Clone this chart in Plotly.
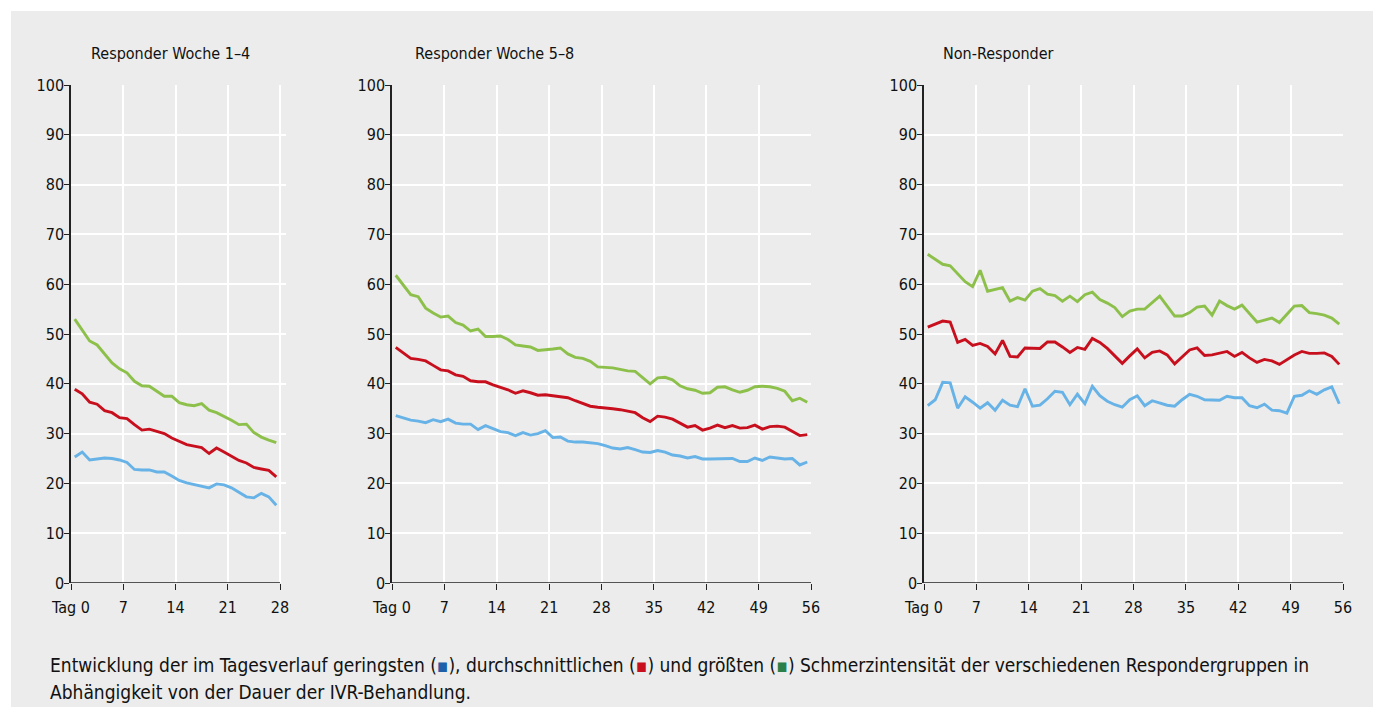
import plotly.graph_objects as go

# the page body adds an 8px margin, so the figure is 8px smaller and shifted
OFF = 8
W, H = 1384 - OFF, 718 - OFF

# ---------------- data ----------------
days_28 = [d + 0.5 for d in range(28)]
days_56 = [d + 0.5 for d in range(56)]

p1_min = [25.3, 26.3, 24.7, 24.9, 25.1, 25.0, 24.7, 24.2, 22.8, 22.7, 22.7, 22.3, 22.3, 21.5,
          20.6, 20.1, 19.8, 19.4, 19.1, 19.9, 19.7, 19.1, 18.2, 17.3, 17.1, 18.0, 17.3, 15.6]
p1_avg = [38.9, 38.0, 36.3, 35.9, 34.6, 34.2, 33.2, 33.0, 31.8, 30.7, 30.9, 30.5, 30.0, 29.1,
          28.4, 27.8, 27.5, 27.2, 26.0, 27.1, 26.3, 25.5, 24.6, 24.1, 23.2, 22.9, 22.6, 21.3]
p1_max = [53.0, 50.8, 48.6, 47.8, 46.0, 44.2, 43.0, 42.2, 40.5, 39.6, 39.5, 38.5, 37.5, 37.5,
          36.2, 35.8, 35.6, 36.0, 34.7, 34.2, 33.5, 32.7, 31.8, 31.9, 30.2, 29.3, 28.7, 28.2]

p2_min = [33.6, 33.1, 32.7, 32.5, 32.2, 32.8, 32.4, 32.9, 32.1, 31.9, 31.9, 30.8, 31.6, 31.0,
          30.4, 30.2, 29.6, 30.2, 29.7, 30.0, 30.6, 29.2, 29.3, 28.5, 28.3, 28.3, 28.2, 28.0,
          27.6, 27.1, 26.9, 27.2, 26.8, 26.3, 26.2, 26.6, 26.3, 25.7, 25.5, 25.1, 25.4, 24.9,
          24.9, 24.9, 25.0, 25.0, 24.4, 24.4, 25.1, 24.6, 25.3, 25.1, 24.9, 25.0, 23.7, 24.3]
p2_avg = [47.3, 46.2, 45.1, 44.9, 44.6, 43.7, 42.8, 42.6, 41.8, 41.5, 40.6, 40.4, 40.4, 39.8,
          39.3, 38.8, 38.1, 38.6, 38.2, 37.7, 37.8, 37.6, 37.4, 37.2, 36.6, 36.0, 35.5, 35.3,
          35.2, 35.0, 34.8, 34.5, 34.2, 33.2, 32.4, 33.5, 33.3, 32.9, 32.1, 31.3, 31.6, 30.7,
          31.1, 31.7, 31.2, 31.6, 31.1, 31.2, 31.7, 30.9, 31.4, 31.5, 31.3, 30.5, 29.6, 29.8]
p2_max = [61.8, 59.8, 57.9, 57.5, 55.2, 54.2, 53.4, 53.6, 52.3, 51.8, 50.6, 51.0, 49.5, 49.5,
          49.6, 48.9, 47.8, 47.6, 47.4, 46.7, 46.8, 47.0, 47.2, 46.0, 45.3, 45.1, 44.5, 43.4,
          43.3, 43.2, 42.9, 42.6, 42.5, 41.2, 40.0, 41.2, 41.3, 40.8, 39.6, 39.0, 38.7, 38.1,
          38.2, 39.3, 39.4, 38.8, 38.3, 38.7, 39.4, 39.5, 39.4, 39.1, 38.5, 36.6, 37.1, 36.3]

p3_min = [35.6, 36.8, 40.3, 40.2, 35.1, 37.4, 36.3, 35.1, 36.2, 34.7, 36.7, 35.7, 35.4, 39.0,
          35.5, 35.7, 37.0, 38.5, 38.3, 35.8, 37.9, 36.0, 39.5, 37.6, 36.5, 35.8, 35.3, 36.8,
          37.6, 35.6, 36.6, 36.2, 35.7, 35.5, 36.8, 37.9, 37.5, 36.8, 36.8, 36.7, 37.5, 37.2,
          37.2, 35.6, 35.2, 35.9, 34.7, 34.6, 34.1, 37.5, 37.7, 38.6, 37.9, 38.8, 39.4, 36.0]
p3_avg = [51.4, 52.0, 52.6, 52.4, 48.3, 48.9, 47.7, 48.1, 47.5, 46.0, 48.7, 45.5, 45.4, 47.2,
          47.1, 47.1, 48.4, 48.4, 47.4, 46.3, 47.3, 46.9, 49.1, 48.3, 47.1, 45.7, 44.1, 45.6,
          47.0, 45.2, 46.3, 46.6, 45.8, 44.0, 45.3, 46.8, 47.2, 45.7, 45.8, 46.2, 46.5, 45.5,
          46.3, 45.2, 44.3, 44.9, 44.6, 43.9, 44.8, 45.8, 46.5, 46.1, 46.1, 46.2, 45.5, 43.9]
p3_max = [66.0, 65.0, 64.0, 63.7, 62.0, 60.5, 59.5, 62.8, 58.6, 58.9, 59.3, 56.6, 57.3, 56.8,
          58.6, 59.1, 58.0, 57.7, 56.6, 57.6, 56.5, 57.9, 58.4, 56.9, 56.2, 55.3, 53.5, 54.6,
          55.0, 55.0, 56.3, 57.6, 55.6, 53.6, 53.6, 54.3, 55.4, 55.6, 53.8, 56.6, 55.7, 55.0,
          55.8, 54.0, 52.4, 52.8, 53.2, 52.3, 54.0, 55.6, 55.7, 54.3, 54.1, 53.8, 53.2, 52.0]

panel_titles = ["Responder Woche 1\u20134", "Responder Woche 5\u20138", "Non-Responder"]
x_ticks_28 = [0, 7, 14, 21, 28]
x_ticks_56 = [0, 7, 14, 21, 28, 35, 42, 49, 56]
y_ticks = list(range(0, 101, 10))

# ---------------- style ----------------
BG = "#ebeceb"
C_MIN = "#67b2e6"
C_AVG = "#c80f1e"
C_MAX = "#8dc04b"
AX = "#222"
FONT = "Liberation Sans Narrow, DejaVu Sans Condensed, Arial Narrow, sans-serif"


def fx(px):
    return (px - OFF) / W


def fy(py):
    return 1 - (py - OFF) / H


fig = go.Figure()

# (x, min, avg, max, ticks, last tick, pixel of day 0, pixel per day, grid extension in days, title x)
panels = [
    (days_28, p1_min, p1_avg, p1_max, x_ticks_28, 28, 71, 209 / 28, 0.85, 89),
    (days_56, p2_min, p2_avg, p2_max, x_ticks_56, 56, 392, 419 / 56, 0.0, 413),
    (days_56, p3_min, p3_avg, p3_max, x_ticks_56, 56, 924, 419 / 56, 0.0, 941),
]

y_dom = [fy(583), fy(85)]

for i, (xs, mn, av, mx, xt, xmax, px0, ppd, ext, tx) in enumerate(panels, start=1):
    xa = "x" if i == 1 else f"x{i}"
    ya = "y" if i == 1 else f"y{i}"
    for ys, col in ((mx, C_MAX), (av, C_AVG), (mn, C_MIN)):
        fig.add_trace(go.Scatter(x=xs, y=ys, mode="lines", xaxis=xa, yaxis=ya,
                                 line=dict(color=col, width=2.9), showlegend=False,
                                 hoverinfo="skip"))
    ticktext = ["Tag 0"] + [str(v) for v in xt[1:]]
    xkey = "xaxis" if i == 1 else f"xaxis{i}"
    ykey = "yaxis" if i == 1 else f"yaxis{i}"
    xr = xmax + ext
    px1 = px0 + ppd * xr
    fig.layout[xkey] = dict(
        domain=[fx(px0), fx(px1)], range=[0, xr], anchor=ya, automargin=False,
        tickmode="array", tickvals=xt, ticktext=ticktext,
        showgrid=True, gridcolor="white", gridwidth=1.5,
        showline=False,
        ticks="outside", ticklen=6, tickcolor=AX, tickwidth=1.2,
        ticklabelstandoff=4,
        tickfont=dict(family=FONT, size=16, color="#111"), zeroline=False,
    )
    fig.layout[ykey] = dict(
        domain=y_dom, range=[0, 100], anchor=xa, automargin=False,
        tickmode="array", tickvals=y_ticks,
        showgrid=True, gridcolor="white", gridwidth=1.5,
        showline=True, linecolor=AX, linewidth=1.5,
        ticks="outside", ticklen=5, tickcolor=AX, tickwidth=1.2,
        ticklabelstandoff=-3,
        tickfont=dict(family=FONT, size=16, color="#111"), zeroline=False,
    )
    # x axis line only from day 0 to the last tick
    fig.add_shape(type="line", xref=xa, yref=ya, x0=0, x1=xmax, y0=0, y1=0,
                  line=dict(color=AX, width=1.5), layer="above")
    fig.add_annotation(text=panel_titles[i - 1], x=fx(tx), y=fy(53),
                       xref="paper", yref="paper", xanchor="left", yanchor="middle",
                       showarrow=False, font=dict(family=FONT, size=16, color="#111"))

caption1 = ("Entwicklung der im Tagesverlauf geringsten (<span style='color:#1f5ea8'>\u25aa</span>), "
            "durchschnittlichen (<span style='color:#c80f1e'>\u25aa</span>) und größten "
            "(<span style='color:#2a8048'>\u25aa</span>) Schmerzintensität der verschiedenen "
            "Respondergruppen in")
caption2 = "Abhängigkeit von der Dauer der IVR-Behandlung."
for txt, yy in ((caption1, 665), (caption2, 692)):
    fig.add_annotation(text=txt, x=fx(48), y=fy(yy), xref="paper", yref="paper",
                       xanchor="left", yanchor="middle", showarrow=False,
                       font=dict(family=FONT, size=19, color="#111"))

fig.add_shape(type="rect", xref="paper", yref="paper", x0=fx(11), x1=fx(1373),
              y0=fy(707), y1=fy(11), fillcolor=BG, line=dict(width=0), layer="below")

fig.update_layout(width=W, height=H, margin=dict(l=0, r=0, t=0, b=0, autoexpand=False),
                  paper_bgcolor="white", plot_bgcolor="rgba(0,0,0,0)",
                  font=dict(family=FONT, color="#111"))

fig.write_html("out.html")
